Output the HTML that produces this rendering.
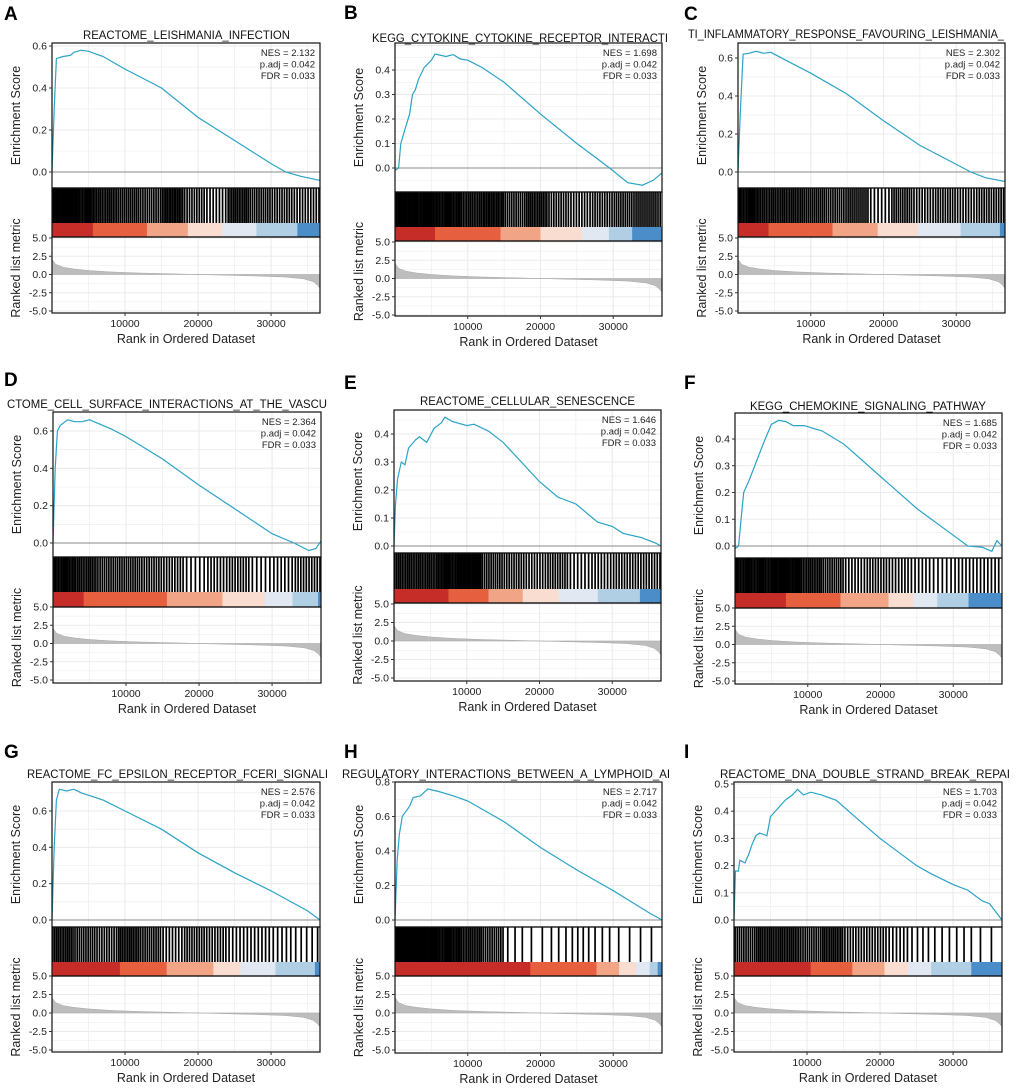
<!DOCTYPE html>
<html><head><meta charset="utf-8"><style>
html,body{margin:0;padding:0;background:#fff;}
#wrap{position:relative;width:1020px;height:1090px;overflow:hidden;}
svg{position:absolute;left:0;top:0;}
text{font-family:"Liberation Sans",Arial,sans-serif;}
</style></head><body>
<div id="wrap">
<svg id="fig" width="1020" height="1090" viewBox="0 0 1020 1090"></svg>
</div>
<script>
// ---- data ----
const maxRank = 36700;
const xTicks = [10000, 20000, 30000];
const xTickLabels = ["10000", "20000", "30000"];
const metricTicks = [5, 2.5, 0, -2.5, -5];
const metricTickLabels = ["5.0", "2.5", "0.0", "-2.5", "-5.0"];
const panelLetters = ["A","B","C","D","E","F","G","H","I"];
const panelTitles = ["REACTOME_LEISHMANIA_INFECTION","KEGG_CYTOKINE_CYTOKINE_RECEPTOR_INTERACTI","TI_INFLAMMATORY_RESPONSE_FAVOURING_LEISHMANIA_","CTOME_CELL_SURFACE_INTERACTIONS_AT_THE_VASCU","REACTOME_CELLULAR_SENESCENCE","KEGG_CHEMOKINE_SIGNALING_PATHWAY","REACTOME_FC_EPSILON_RECEPTOR_FCERI_SIGNALI","REGULATORY_INTERACTIONS_BETWEEN_A_LYMPHOID_AI","REACTOME_DNA_DOUBLE_STRAND_BREAK_REPAI"];
const nesValues = ["2.132","1.698","2.302","2.364","1.646","1.685","2.576","2.717","1.703"];
const padjValues = ["0.042","0.042","0.042","0.042","0.042","0.042","0.042","0.042","0.042"];
const fdrValues = ["0.033","0.033","0.033","0.033","0.033","0.033","0.033","0.033","0.033"];
const esTickSets = [[0,0.2,0.4,0.6],[0,0.1,0.2,0.3,0.4],[0,0.2,0.4,0.6],[0,0.2,0.4,0.6],[0,0.1,0.2,0.3,0.4],[0,0.1,0.2,0.3,0.4],[0,0.2,0.4,0.6],[0,0.2,0.4,0.6,0.8],[0,0.1,0.2,0.3,0.4,0.5]];
const esRankA = [0,300,600,1500,2500,3000,4000,5000,7000,10000,15000,20000,25000,30000,32000,34000,36700];
const esValA  = [0,0.3,0.54,0.55,0.555,0.57,0.58,0.575,0.55,0.49,0.40,0.26,0.15,0.04,0.0,-0.02,-0.04];
const esRankB = [0,500,800,1500,2000,2400,2800,3200,4000,5000,5500,7000,8000,9000,10000,12000,15000,20000,25000,29500,32000,34000,35500,36700];
const esValB  = [-0.01,0.0,0.1,0.17,0.22,0.3,0.32,0.36,0.41,0.44,0.465,0.455,0.463,0.445,0.44,0.41,0.35,0.22,0.1,0.0,-0.06,-0.07,-0.05,-0.02];
const esRankC = [0,300,700,1500,2500,3500,4500,7000,10000,15000,20000,25000,30000,32000,34000,36700];
const esValC  = [0,0.3,0.62,0.625,0.635,0.625,0.63,0.58,0.52,0.41,0.27,0.14,0.04,0.0,-0.03,-0.05];
const esRankD = [0,300,600,1000,2000,3000,4000,5000,8000,10000,15000,20000,25000,30000,33000,35000,36000,36700];
const esValD  = [0,0.4,0.6,0.63,0.66,0.65,0.65,0.66,0.61,0.57,0.45,0.31,0.18,0.05,0.0,-0.04,-0.03,0.01];
const esRankE = [0,200,500,1000,1500,2000,3000,3500,4500,5500,6500,7000,8000,10000,11000,13000,15000,20000,22500,25000,28000,30000,31500,34000,36000,36700];
const esValE  = [0,0.15,0.24,0.3,0.29,0.35,0.38,0.39,0.37,0.42,0.44,0.46,0.445,0.43,0.435,0.41,0.37,0.23,0.175,0.15,0.085,0.07,0.045,0.03,0.01,0.0];
const esRankF = [0,500,800,1200,2000,3000,4000,5000,6000,7000,8000,9500,12000,15000,20000,25000,30000,32000,34000,35300,36000,36700];
const esValF  = [-0.01,0.0,0.09,0.2,0.25,0.32,0.39,0.455,0.47,0.465,0.45,0.45,0.43,0.38,0.26,0.14,0.04,0.0,-0.005,-0.02,0.02,0.0];
const esRankG = [0,300,600,1000,2000,3000,4000,7000,10000,15000,20000,25000,30000,35000,36700];
const esValG  = [0,0.4,0.66,0.72,0.71,0.72,0.70,0.66,0.6,0.5,0.37,0.26,0.16,0.05,0.0];
const esRankH = [0,300,600,1000,2000,2500,3500,4500,6000,8000,10000,15000,20000,25000,30000,35000,36700];
const esValH  = [0,0.35,0.5,0.6,0.66,0.71,0.72,0.76,0.745,0.72,0.69,0.57,0.42,0.29,0.17,0.04,0.0];
const esRankI = [0,200,600,800,1500,2000,2500,3000,3500,4500,5000,6000,7000,8000,8700,9500,10500,12000,14000,17000,20000,22000,25000,27000,30000,32000,34000,35000,36700];
const esValI  = [0,0.18,0.18,0.22,0.21,0.24,0.28,0.31,0.32,0.31,0.38,0.41,0.44,0.46,0.48,0.46,0.47,0.46,0.44,0.37,0.3,0.26,0.2,0.17,0.13,0.11,0.07,0.06,0.0];
const esRanks = [esRankA,esRankB,esRankC,esRankD,esRankE,esRankF,esRankG,esRankH,esRankI];
const esVals = [esValA,esValB,esValC,esValD,esValE,esValF,esValG,esValH,esValI];
// hits per 3000-rank bin
const hitDensity = [
 [16,14,12,11,10,13,9,7,12,10,9,8,8],
 [16,15,14,12,13,10,12,9,8,9,10,11,10],
 [14,12,12,11,10,11,6,10,8,9,8,9,9],
 [14,12,10,10,9,8,5,7,8,5,6,8,8],
 [12,12,14,16,10,9,8,9,6,7,8,8,8],
 [14,14,15,12,10,7,8,7,6,5,6,6,6],
 [12,10,9,12,10,7,9,8,6,6,5,4,4],
 [18,16,14,12,10,3,2,3,4,3,2,2,2],
 [10,12,12,10,12,8,8,6,4,3,3,2,2]];
const colorLevels = ["#c62d28","#e6603f","#f2a486","#f8ddd0","#e2e8f1","#b0cfe5","#4a8dc8"];
const colorBreaks = [
 [0,5600,13000,18600,23300,28000,33600],
 [0,5500,14500,20000,25700,29400,32600],
 [0,4200,13000,19200,24700,30600,36000],
 [0,4200,15600,23200,29000,32800,36300],
 [0,7500,13000,17700,22600,28000,33800],
 [0,7000,14500,21100,24500,27800,32100],
 [0,9300,15700,22100,25800,30600,36000],
 [0,18600,27700,30800,33100,35000,36100],
 [0,10500,16200,20600,23800,27000,32500]];
const metricRanks = [0,500,1500,3000,5000,8000,12000,18000,22000,28000,32000,34500,35800,36400,36700];
const metricVals  = [2.1,1.4,1.0,0.75,0.55,0.35,0.2,0.05,-0.05,-0.2,-0.35,-0.6,-1.0,-1.5,-1.9];

// ---- layout (not data) ----
const layout = [
 {ox:0,oy:0,L:52,R:320,T:43,esB:188,cT:223,mB:237,B:313,m5:238,mm5:311,e1:0.6,y1:46,y0:172,tx:83,tw:207,ty:39,ly:20},
 {ox:340,oy:0,L:55,R:322,T:43,esB:192,cT:227,mB:241,B:316,m5:242,mm5:315,e1:0.4,y1:70,y0:168,tx:32,tw:296,ty:42,ly:19},
 {ox:680,oy:0,L:58,R:325,T:43,esB:188,cT:223,mB:237,B:313,m5:238,mm5:311,e1:0.6,y1:58,y0:172,tx:8,tw:316,ty:38,ly:20},
 {ox:0,oy:360,L:53,R:321,T:52,esB:197,cT:232,mB:247,B:323,m5:247,mm5:320,e1:0.6,y1:71,y0:183,tx:7,tw:320,ty:48,ly:26},
 {ox:340,oy:360,L:54,R:321,T:50,esB:193,cT:229,mB:243,B:321,m5:244,mm5:318,e1:0.4,y1:74,y0:186,tx:80,tw:215,ty:45,ly:29},
 {ox:680,oy:360,L:55,R:322,T:53,esB:198,cT:233,mB:248,B:324,m5:248,mm5:321,e1:0.4,y1:79,y0:186,tx:70,tw:236,ty:50,ly:29},
 {ox:0,oy:730,L:52,R:320,T:52,esB:197,cT:232,mB:246,B:322,m5:246,mm5:320,e1:0.6,y1:81,y0:190,tx:27,tw:301,ty:48,ly:28},
 {ox:340,oy:730,L:55,R:322,T:52,esB:197,cT:232,mB:246,B:323,m5:246,mm5:320,e1:0.8,y1:52,y0:190,tx:2,tw:328,ty:48,ly:28},
 {ox:680,oy:730,L:54,R:322,T:52,esB:197,cT:232,mB:246,B:322,m5:246,mm5:320,e1:0.5,y1:54,y0:190,tx:40,tw:290,ty:48,ly:28}];

const NS = "http://www.w3.org/2000/svg";
const fig = document.getElementById("fig");
function mk(tag, attrs, parent){ const e=document.createElementNS(NS,tag); for(const k in attrs) e.setAttribute(k,attrs[k]); (parent||fig).appendChild(e); return e; }

for(let p=0;p<9;p++){
  const c = layout[p];
  const g = mk("g",{transform:`translate(${c.ox},${c.oy})`});
  
  
  const clipId = "clip"+p;
  const cp = mk("clipPath",{id:clipId},g); mk("rect",{x:0,y:0,width:340,height:370},cp);
  const inner = mk("g",{"clip-path":`url(#${clipId})`},g);
  const xs = r => c.L + r/maxRank*(c.R-c.L);
  const ys = v => c.y0 - v*(c.y0-c.y1)/c.e1;
  const ym = v => c.m5 + (5-v)*(c.mm5-c.m5)/10;

  const lab = mk("text",{x:4,y:c.ly,"font-size":19,"font-weight":"bold",fill:"#000"},inner);
  lab.textContent = panelLetters[p];
  
  
  const tt = mk("text",{x:c.tx,y:c.ty,"font-size":11.5,fill:"#111",textLength:c.tw,lengthAdjust:"spacingAndGlyphs"},inner);
  tt.textContent = panelTitles[p];
  
  

  const ticks = esTickSets[p];
  const step = ticks[1]-ticks[0];
  for(let v=-step/2; v<=c.e1+step; v+=step/2){
    const y=ys(v); if(y<c.T||y>c.esB) continue;
    mk("line",{x1:c.L,x2:c.R,y1:y,y2:y,stroke:"#ebebeb","stroke-width":Math.abs(Math.round(v/step*2))%2?0.6:1.1},inner);
  }
  for(let r=5000;r<maxRank;r+=5000){
    const major = r%10000===0;
    mk("line",{x1:xs(r),x2:xs(r),y1:c.T,y2:c.esB,stroke:"#ebebeb","stroke-width":major?1.1:0.6},inner);
    mk("line",{x1:xs(r),x2:xs(r),y1:c.mB,y2:c.B,stroke:"#ebebeb","stroke-width":major?1.1:0.6},inner);
  }
  for(let v=-5; v<=5; v+=1.25){
    const y=ym(v); if(y<c.mB||y>c.B) continue;
    mk("line",{x1:c.L,x2:c.R,y1:y,y2:y,stroke:"#ebebeb","stroke-width":(v%2.5===0)?1.1:0.6},inner);
  }
  mk("line",{x1:c.L,x2:c.R,y1:ys(0),y2:ys(0),stroke:"#8a8a8a","stroke-width":1},inner);

  const rk=esRanks[p], vl=esVals[p];
  let d="";
  for(let i=0;i<rk.length;i++) d += (i?"L":"M")+xs(rk[i]).toFixed(1)+","+ys(vl[i]).toFixed(1);
  const es = mk("path",{d:d,fill:"none",stroke:"#2aa3c7","stroke-width":1.2},inner);
  
  

  const stat = [`NES = ${nesValues[p]}`,`p.adj = ${padjValues[p]}`,`FDR = ${fdrValues[p]}`];
  for(let i=0;i<3;i++){
    const s = mk("text",{x:c.R-5,y:c.T+13+i*11.5,"font-size":9.5,"text-anchor":"end",fill:"#222"},inner);
    s.textContent = stat[i];
    
    
  }

  const br = colorBreaks[p];
  for(let i=0;i<br.length;i++){
    const r0=br[i], r1=(i+1<br.length)?br[i+1]:maxRank;
    const band = mk("rect",{x:xs(r0),y:c.cT,width:xs(r1)-xs(r0)+0.3,height:c.mB-c.cT,fill:colorLevels[i]},inner);
    
    
  }
  const hd = hitDensity[p];
  for(let b=0;b<hd.length;b++){
    const n=hd[b];
    for(let k=0;k<n;k++){
      const r = b*3000 + (k+0.5)*3000/n;
      if(r>maxRank) continue;
      const hl = mk("line",{x1:xs(r),x2:xs(r),y1:c.esB,y2:c.cT,stroke:"#000","stroke-width":1.7},inner);
      
      
    }
  }

  let md = "M"+xs(metricRanks[0]).toFixed(1)+","+ym(0).toFixed(1);
  for(let i=0;i<metricRanks.length;i++) md += "L"+xs(metricRanks[i]).toFixed(1)+","+ym(metricVals[i]).toFixed(1);
  md += "L"+xs(metricRanks[metricRanks.length-1]).toFixed(1)+","+ym(0).toFixed(1)+"Z";
  const ma = mk("path",{d:md,fill:"#bdbdbd",stroke:"#a8a8a8","stroke-width":0.5},inner);
  
  

  mk("rect",{x:c.L,y:c.T,width:c.R-c.L,height:c.esB-c.T,fill:"none",stroke:"#111","stroke-width":1.2},inner);
  mk("rect",{x:c.L,y:c.esB,width:c.R-c.L,height:c.mB-c.esB,fill:"none",stroke:"#111","stroke-width":1.2},inner);
  mk("rect",{x:c.L,y:c.mB,width:c.R-c.L,height:c.B-c.mB,fill:"none",stroke:"#111","stroke-width":1.2},inner);

  for(const v of ticks){
    const y=ys(v);
    mk("line",{x1:c.L-3,x2:c.L,y1:y,y2:y,stroke:"#333","stroke-width":1},inner);
    const t=mk("text",{x:c.L-5,y:y+3.5,"font-size":10.5,"text-anchor":"end",fill:"#222"},inner);
    t.textContent=v.toFixed(1);
    
    
  }
  for(let i=0;i<metricTicks.length;i++){
    const y=ym(metricTicks[i]);
    mk("line",{x1:c.L-3,x2:c.L,y1:y,y2:y,stroke:"#333","stroke-width":1},inner);
    const t=mk("text",{x:c.L-5,y:y+3.5,"font-size":10.5,"text-anchor":"end",fill:"#222"},inner);
    t.textContent=metricTickLabels[i];
    
    
  }
  for(let i=0;i<xTicks.length;i++){
    const x=xs(xTicks[i]);
    mk("line",{x1:x,x2:x,y1:c.B,y2:c.B+3,stroke:"#333","stroke-width":1},inner);
    const t=mk("text",{x:x,y:c.B+14,"font-size":10.5,"text-anchor":"middle",fill:"#222"},inner);
    t.textContent=xTickLabels[i];
    
    
  }
  const xt=mk("text",{x:(c.L+c.R)/2,y:c.B+30,"font-size":12.5,"text-anchor":"middle",fill:"#222"},inner);
  xt.textContent="Rank in Ordered Dataset";
  
  
  const ey=(c.T+c.esB)/2;
  const et=mk("text",{x:0,y:0,"font-size":12.5,"text-anchor":"middle",fill:"#222",transform:`translate(${c.L-32},${ey}) rotate(-90)`},inner);
  et.textContent="Enrichment Score";
  
  
  const my=(c.cT+c.B)/2;
  const mt=mk("text",{x:0,y:0,"font-size":12.5,"text-anchor":"middle",fill:"#222",transform:`translate(${c.L-32},${my}) rotate(-90)`},inner);
  mt.textContent="Ranked list metric";
  
  
}
</script>
</body></html>
